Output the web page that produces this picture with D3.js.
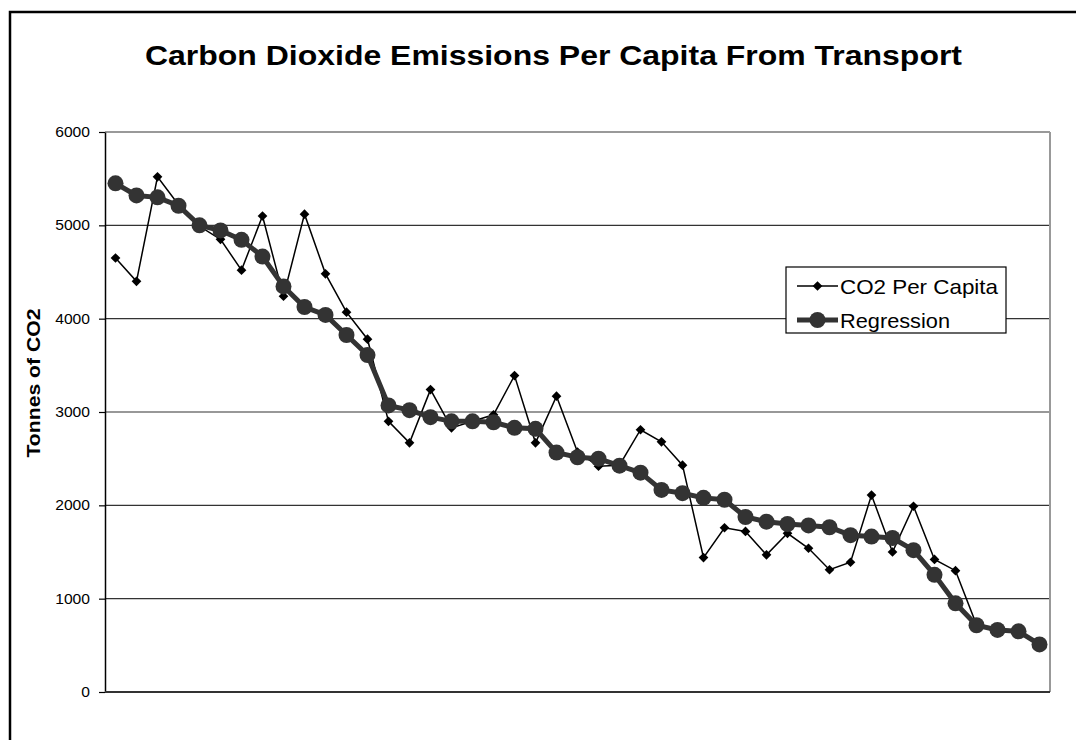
<!DOCTYPE html>
<html>
<head>
<meta charset="utf-8">
<script src="https://cdn.jsdelivr.net/npm/d3@7"></script>
<style>
  body { margin: 0; background: #fff; }
  text { font-family: "Liberation Sans", Arial, sans-serif; }
</style>
</head>
<body>
<div id="chart-section"></div>
<script>
// one category per observation, no labels shown on the x axis
var categories = d3.range(1, 46);

var co2PerCapita = [4650, 4400, 5520, 5220, 4990, 4850, 4520, 5100, 4240, 5120,
                    4480, 4070, 3780, 2900, 2670, 3240, 2830, 2900, 2970, 3390,
                    2670, 3170, 2570, 2420, 2430, 2810, 2680, 2430, 1440, 1760,
                    1720, 1470, 1700, 1540, 1310, 1390, 2110, 1500, 1990, 1420,
                    1300, 720, 670, 660, 520];

var regression = [5450, 5320, 5300, 5210, 5000, 4945, 4845, 4665, 4345, 4125,
                  4040, 3825, 3610, 3070, 3020, 2945, 2900, 2900, 2890, 2830,
                  2820, 2565, 2515, 2500, 2425, 2350, 2165, 2130, 2080, 2060,
                  1875, 1825, 1800, 1785, 1765, 1680, 1665, 1650, 1520, 1255,
                  950, 715, 665, 650, 510];

var yTicks = [0, 1000, 2000, 3000, 4000, 5000, 6000];
var seriesNames = ["CO2 Per Capita", "Regression"];

var W = 1076, H = 740;
var margin = {top: 132, right: 26, bottom: 48, left: 105},
    width = W - margin.left - margin.right,
    height = H - margin.top - margin.bottom;

var svg = d3.select("#chart-section")
    .append("svg")
    .attr("width", W)
    .attr("height", H);

// outer chart border
svg.append("rect")
    .attr("x", 10).attr("y", 12)
    .attr("width", W + 20).attr("height", H + 20)
    .attr("fill", "#fff")
    .attr("stroke", "#000")
    .attr("stroke-width", 2.5);

svg.append("text")
    .text("Carbon Dioxide Emissions Per Capita From Transport")
    .attr("x", 145).attr("y", 65)
    .attr("font-size", 28)
    .attr("font-weight", "bold")
    .attr("textLength", 817)
    .attr("lengthAdjust", "spacingAndGlyphs");

var chart = svg.append("g")
    .attr("transform", "translate(" + margin.left + "," + margin.top + ")");

var xscale = d3.scalePoint()
    .domain(categories)
    .range([0, width])
    .padding(0.5);

var yscale = d3.scaleLinear()
    .domain([0, 6000])
    .range([height, 0]);

// gridlines
chart.selectAll("line.grid")
    .data(yTicks.filter(d => d > 0))
    .enter()
    .append("line")
    .attr("class", "grid")
    .attr("x1", 0).attr("x2", width)
    .attr("y1", d => yscale(d)).attr("y2", d => yscale(d))
    .attr("stroke", d => d == 6000 ? "#999" : "#333")
    .attr("stroke-width", d => d == 6000 ? 2 : 1.2);

// right side of plot area
chart.append("line")
    .attr("x1", width).attr("x2", width)
    .attr("y1", 0).attr("y2", height)
    .attr("stroke", "#999").attr("stroke-width", 2);

// y axis
var yAxis = chart.append("g")
    .call(d3.axisLeft(yscale).tickValues(yTicks).tickFormat(d3.format("d"))
        .tickSize(6).tickPadding(9).tickSizeOuter(0));
yAxis.select(".domain").attr("stroke", "#000").attr("stroke-width", 1.5);
yAxis.selectAll(".tick line").attr("stroke", "#000").attr("stroke-width", 1.2);
yAxis.selectAll("text")
    .attr("font-family", "Liberation Sans, Arial, sans-serif")
    .attr("font-size", 14.5)
    .attr("fill", "#000")
    .attr("textLength", d => String(d).length * 8.7)
    .attr("lengthAdjust", "spacingAndGlyphs");

// x axis (no labels)
chart.append("line")
    .attr("x1", 0).attr("x2", width)
    .attr("y1", height).attr("y2", height)
    .attr("stroke", "#333").attr("stroke-width", 2);

svg.append("text")
    .text("Tonnes of CO2")
    .attr("transform", "translate(40," + 383 + ") rotate(-90)")
    .attr("text-anchor", "middle")
    .attr("font-size", 19)
    .attr("font-weight", "bold")
    .attr("textLength", 149)
    .attr("lengthAdjust", "spacingAndGlyphs");

var line = d3.line()
    .x((d, i) => xscale(categories[i]))
    .y(d => yscale(d));

// CO2 per capita
chart.append("path")
    .datum(co2PerCapita)
    .attr("d", line)
    .attr("fill", "none")
    .attr("stroke", "#000")
    .attr("stroke-width", 1.5);

var diamond = d3.symbol().type(d3.symbolDiamond2).size(60);

chart.selectAll("path.dia")
    .data(co2PerCapita)
    .enter()
    .append("path")
    .attr("class", "dia")
    .attr("d", diamond)
    .attr("transform", (d, i) => "translate(" + xscale(categories[i]) + "," + yscale(d) + ")")
    .attr("fill", "#000");

// regression
chart.append("path")
    .datum(regression)
    .attr("d", line)
    .attr("fill", "none")
    .attr("stroke", "#333")
    .attr("stroke-width", 5);

chart.selectAll("circle")
    .data(regression)
    .enter()
    .append("circle")
    .attr("cx", (d, i) => xscale(categories[i]))
    .attr("cy", d => yscale(d))
    .attr("r", 8)
    .attr("fill", "#333");

// legend
var legend = svg.append("g").attr("transform", "translate(786,267)");
legend.append("rect")
    .attr("width", 220).attr("height", 66)
    .attr("fill", "#fff")
    .attr("stroke", "#000")
    .attr("stroke-width", 1.2);

var row1 = legend.append("g").attr("transform", "translate(0,19)");
row1.append("line").attr("x1", 11).attr("x2", 52)
    .attr("stroke", "#000").attr("stroke-width", 1.5);
row1.append("path").attr("d", diamond).attr("transform", "translate(31.5,0)");
row1.append("text").text(seriesNames[0])
    .attr("x", 54).attr("y", 7.5).attr("font-size", 21)
    .attr("textLength", 158).attr("lengthAdjust", "spacingAndGlyphs");

var row2 = legend.append("g").attr("transform", "translate(0,53)");
row2.append("line").attr("x1", 11).attr("x2", 52)
    .attr("stroke", "#333").attr("stroke-width", 5);
row2.append("circle").attr("cx", 31.5).attr("r", 8).attr("fill", "#333");
row2.append("text").text(seriesNames[1])
    .attr("x", 54).attr("y", 7.5).attr("font-size", 21)
    .attr("textLength", 110).attr("lengthAdjust", "spacingAndGlyphs");
</script>
</body>
</html>
